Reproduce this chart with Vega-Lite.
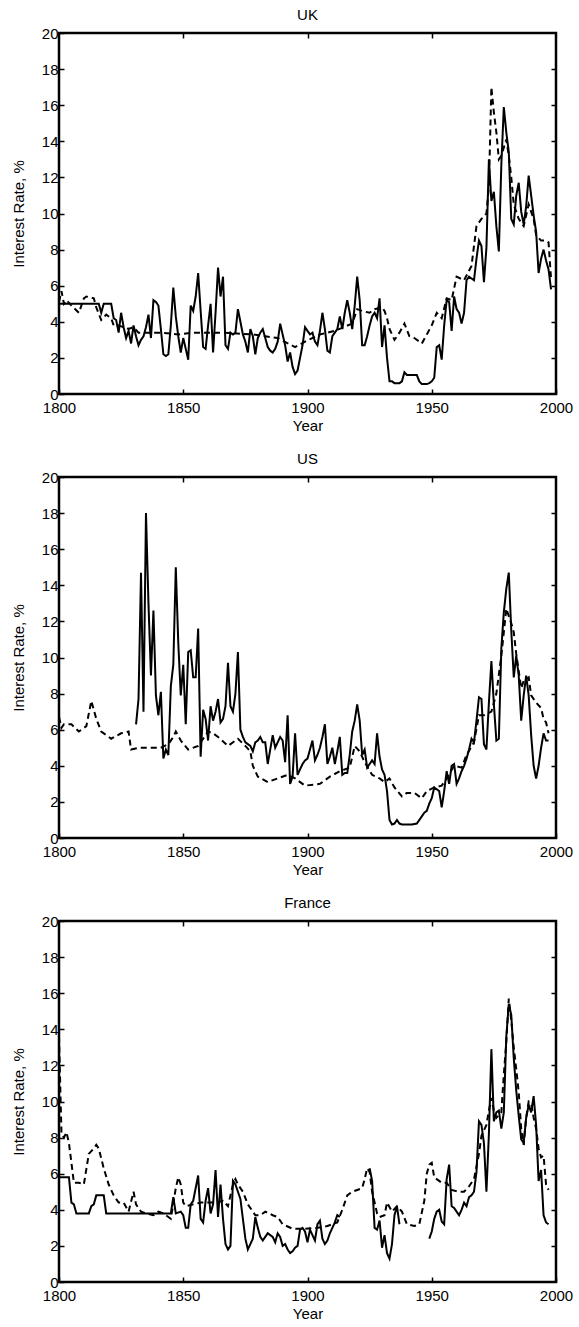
{
  "$schema": "https://vega.github.io/schema/vega-lite/v6.json",
  "background": "white",
  "padding": {"left": 10, "top": 6, "right": 5, "bottom": 0},
  "spacing": 15,
  "config": {
    "font": "Liberation Sans",
    "view": {"stroke": "black", "strokeWidth": 2.5},
    "axis": {
      "domain": false, "grid": false, "labelFlush": false,
      "labelFont": "Liberation Sans", "labelFontSize": 15, "labelColor": "black",
      "titleFont": "Liberation Sans", "titleFontSize": 15, "titleFontWeight": "normal", "titleColor": "black",
      "tickColor": "black", "tickWidth": 1.5, "tickSize": -5
    },
    "title": {"font": "Liberation Sans", "fontSize": 15, "fontWeight": "normal", "color": "black", "offset": 3},
    "line": {"color": "black", "strokeWidth": 2}
  },
  "datasets": {
    "uk_short": [
      {"year":1800,"rate":5.0},{"year":1816,"rate":5.0},{"year":1817,"rate":4.5},{"year":1818,"rate":5.0},{"year":1821,"rate":5.0},{"year":1822,"rate":4.2},{"year":1823,"rate":4.1},{"year":1824,"rate":3.4},{"year":1825,"rate":4.5},{"year":1826,"rate":3.7},{"year":1827,"rate":3.1},{"year":1828,"rate":3.5},{"year":1829,"rate":2.8},{"year":1830,"rate":3.8},{"year":1831,"rate":3.2},{"year":1832,"rate":2.7},{"year":1833,"rate":3.0},{"year":1834,"rate":3.2},{"year":1835,"rate":3.7},{"year":1836,"rate":4.4},{"year":1837,"rate":3.1},{"year":1838,"rate":5.2},{"year":1839,"rate":5.1},{"year":1840,"rate":4.9},{"year":1841,"rate":3.6},{"year":1842,"rate":2.2},{"year":1843,"rate":2.1},{"year":1844,"rate":2.2},{"year":1845,"rate":3.8},{"year":1846,"rate":5.9},{"year":1847,"rate":4.3},{"year":1848,"rate":3.2},{"year":1849,"rate":2.3},{"year":1850,"rate":3.1},{"year":1851,"rate":2.5},{"year":1852,"rate":1.9},{"year":1853,"rate":4.9},{"year":1854,"rate":4.6},{"year":1855,"rate":5.4},{"year":1856,"rate":6.7},{"year":1857,"rate":4.6},{"year":1858,"rate":2.6},{"year":1859,"rate":2.5},{"year":1860,"rate":3.8},{"year":1861,"rate":5.0},{"year":1862,"rate":2.3},{"year":1863,"rate":4.5},{"year":1864,"rate":7.0},{"year":1865,"rate":5.4},{"year":1866,"rate":6.5},{"year":1867,"rate":2.7},{"year":1868,"rate":2.5},{"year":1869,"rate":3.4},{"year":1870,"rate":3.3},{"year":1871,"rate":3.4},{"year":1872,"rate":4.7},{"year":1873,"rate":4.0},{"year":1874,"rate":3.3},{"year":1875,"rate":2.9},{"year":1876,"rate":2.3},{"year":1877,"rate":3.6},{"year":1878,"rate":3.2},{"year":1879,"rate":2.2},{"year":1880,"rate":3.1},{"year":1881,"rate":3.4},{"year":1882,"rate":3.6},{"year":1883,"rate":3.1},{"year":1884,"rate":2.6},{"year":1885,"rate":2.4},{"year":1886,"rate":2.3},{"year":1887,"rate":2.5},{"year":1888,"rate":2.9},{"year":1889,"rate":3.9},{"year":1890,"rate":3.3},{"year":1891,"rate":2.7},{"year":1892,"rate":1.8},{"year":1893,"rate":2.3},{"year":1894,"rate":1.5},{"year":1895,"rate":1.1},{"year":1896,"rate":1.3},{"year":1897,"rate":2.0},{"year":1898,"rate":2.7},{"year":1899,"rate":3.7},{"year":1900,"rate":3.5},{"year":1901,"rate":3.3},{"year":1902,"rate":3.4},{"year":1903,"rate":2.9},{"year":1904,"rate":2.7},{"year":1905,"rate":3.5},{"year":1906,"rate":4.5},{"year":1907,"rate":3.6},{"year":1908,"rate":2.4},{"year":1909,"rate":2.3},{"year":1910,"rate":3.2},{"year":1911,"rate":3.4},{"year":1912,"rate":3.6},{"year":1913,"rate":4.3},{"year":1914,"rate":3.6},{"year":1915,"rate":4.5},{"year":1916,"rate":5.2},{"year":1917,"rate":4.5},{"year":1918,"rate":3.6},{"year":1919,"rate":4.9},{"year":1920,"rate":6.5},{"year":1921,"rate":5.2},{"year":1922,"rate":2.7},{"year":1923,"rate":2.7},{"year":1924,"rate":3.2},{"year":1925,"rate":3.8},{"year":1926,"rate":4.3},{"year":1927,"rate":4.5},{"year":1928,"rate":4.2},{"year":1929,"rate":5.3},{"year":1930,"rate":2.6},{"year":1931,"rate":3.8},{"year":1932,"rate":2.0},{"year":1933,"rate":0.7},{"year":1934,"rate":0.7},{"year":1935,"rate":0.6},{"year":1936,"rate":0.6},{"year":1937,"rate":0.6},{"year":1938,"rate":0.7},{"year":1939,"rate":1.2},{"year":1940,"rate":1.05},{"year":1942,"rate":1.05},{"year":1944,"rate":1.05},{"year":1945,"rate":0.7},{"year":1946,"rate":0.55},{"year":1948,"rate":0.55},{"year":1949,"rate":0.6},{"year":1950,"rate":0.7},{"year":1951,"rate":0.9},{"year":1952,"rate":2.6},{"year":1953,"rate":2.7},{"year":1954,"rate":1.9},{"year":1955,"rate":3.8},{"year":1956,"rate":5.2},{"year":1957,"rate":5.1},{"year":1958,"rate":3.5},{"year":1959,"rate":5.4},{"year":1960,"rate":4.7},{"year":1961,"rate":4.5},{"year":1962,"rate":3.9},{"year":1963,"rate":4.5},{"year":1964,"rate":6.3},{"year":1965,"rate":6.5},{"year":1966,"rate":6.4},{"year":1967,"rate":6.3},{"year":1968,"rate":7.5},{"year":1969,"rate":8.5},{"year":1970,"rate":8.2},{"year":1971,"rate":6.2},{"year":1972,"rate":8.1},{"year":1973,"rate":13.0},{"year":1974,"rate":10.7},{"year":1975,"rate":11.2},{"year":1976,"rate":9.3},{"year":1977,"rate":7.9},{"year":1978,"rate":12.7},{"year":1979,"rate":15.9},{"year":1980,"rate":14.5},{"year":1981,"rate":13.4},{"year":1982,"rate":9.7},{"year":1983,"rate":9.4},{"year":1984,"rate":11.0},{"year":1985,"rate":11.7},{"year":1986,"rate":10.1},{"year":1987,"rate":9.4},{"year":1988,"rate":10.4},{"year":1989,"rate":12.1},{"year":1990,"rate":11.0},{"year":1991,"rate":9.9},{"year":1992,"rate":9.0},{"year":1993,"rate":6.7},{"year":1994,"rate":7.5},{"year":1995,"rate":8.0},{"year":1996,"rate":7.4},{"year":1997,"rate":6.9},{"year":1998,"rate":5.8}
    ],
    "uk_long": [
      {"year":1800,"rate":5.1},{"year":1801,"rate":5.7},{"year":1802,"rate":5.0},{"year":1803,"rate":5.2},{"year":1805,"rate":4.9},{"year":1808,"rate":4.5},{"year":1810,"rate":5.3},{"year":1811,"rate":5.4},{"year":1814,"rate":5.3},{"year":1815,"rate":4.8},{"year":1817,"rate":4.1},{"year":1819,"rate":4.4},{"year":1821,"rate":4.2},{"year":1822,"rate":3.8},{"year":1824,"rate":3.8},{"year":1826,"rate":3.7},{"year":1828,"rate":3.6},{"year":1830,"rate":3.7},{"year":1832,"rate":3.4},{"year":1835,"rate":3.4},{"year":1841,"rate":3.4},{"year":1848,"rate":3.3},{"year":1854,"rate":3.4},{"year":1866,"rate":3.4},{"year":1878,"rate":3.3},{"year":1888,"rate":3.1},{"year":1895,"rate":2.6},{"year":1899,"rate":2.9},{"year":1905,"rate":3.3},{"year":1911,"rate":3.5},{"year":1918,"rate":3.9},{"year":1920,"rate":4.7},{"year":1922,"rate":4.6},{"year":1925,"rate":4.5},{"year":1927,"rate":4.7},{"year":1930,"rate":4.8},{"year":1931,"rate":4.6},{"year":1932,"rate":4.2},{"year":1933,"rate":3.6},{"year":1935,"rate":3.0},{"year":1937,"rate":3.4},{"year":1939,"rate":3.9},{"year":1941,"rate":3.2},{"year":1943,"rate":3.1},{"year":1946,"rate":2.8},{"year":1948,"rate":3.3},{"year":1950,"rate":3.8},{"year":1952,"rate":4.5},{"year":1954,"rate":4.2},{"year":1956,"rate":5.3},{"year":1958,"rate":5.2},{"year":1960,"rate":6.5},{"year":1963,"rate":6.3},{"year":1966,"rate":7.1},{"year":1968,"rate":9.3},{"year":1970,"rate":9.7},{"year":1972,"rate":10.0},{"year":1973,"rate":11.5},{"year":1974,"rate":17.0},{"year":1975,"rate":15.6},{"year":1976,"rate":14.5},{"year":1977,"rate":13.0},{"year":1978,"rate":13.2},{"year":1980,"rate":14.1},{"year":1981,"rate":13.2},{"year":1982,"rate":12.0},{"year":1983,"rate":10.5},{"year":1985,"rate":9.7},{"year":1987,"rate":9.3},{"year":1989,"rate":10.5},{"year":1991,"rate":9.7},{"year":1992,"rate":8.8},{"year":1994,"rate":8.5},{"year":1996,"rate":8.5},{"year":1997,"rate":8.4},{"year":1998,"rate":6.4}
    ],
    "us_short": [
      {"year":1831,"rate":6.3},{"year":1832,"rate":7.7},{"year":1833,"rate":14.7},{"year":1834,"rate":7.0},{"year":1835,"rate":18.0},{"year":1836,"rate":13.0},{"year":1837,"rate":9.0},{"year":1838,"rate":12.6},{"year":1839,"rate":7.9},{"year":1840,"rate":6.8},{"year":1841,"rate":8.1},{"year":1842,"rate":4.4},{"year":1843,"rate":4.9},{"year":1844,"rate":4.6},{"year":1845,"rate":8.4},{"year":1846,"rate":9.6},{"year":1847,"rate":15.0},{"year":1848,"rate":10.8},{"year":1849,"rate":7.9},{"year":1850,"rate":9.6},{"year":1851,"rate":6.3},{"year":1852,"rate":10.3},{"year":1853,"rate":10.4},{"year":1854,"rate":8.9},{"year":1855,"rate":8.9},{"year":1856,"rate":11.6},{"year":1857,"rate":4.5},{"year":1858,"rate":7.1},{"year":1859,"rate":6.6},{"year":1860,"rate":5.4},{"year":1861,"rate":7.3},{"year":1862,"rate":6.5},{"year":1863,"rate":7.0},{"year":1864,"rate":7.7},{"year":1865,"rate":6.4},{"year":1866,"rate":6.6},{"year":1867,"rate":7.3},{"year":1868,"rate":9.7},{"year":1869,"rate":7.3},{"year":1870,"rate":7.0},{"year":1871,"rate":8.0},{"year":1872,"rate":10.3},{"year":1873,"rate":6.0},{"year":1874,"rate":5.6},{"year":1875,"rate":5.3},{"year":1876,"rate":5.2},{"year":1877,"rate":5.1},{"year":1878,"rate":4.8},{"year":1879,"rate":5.3},{"year":1880,"rate":5.4},{"year":1881,"rate":5.6},{"year":1882,"rate":5.3},{"year":1883,"rate":5.3},{"year":1884,"rate":4.1},{"year":1885,"rate":4.9},{"year":1886,"rate":5.7},{"year":1887,"rate":5.0},{"year":1888,"rate":5.3},{"year":1889,"rate":5.6},{"year":1890,"rate":5.4},{"year":1891,"rate":4.2},{"year":1892,"rate":6.8},{"year":1893,"rate":3.0},{"year":1894,"rate":3.4},{"year":1895,"rate":5.8},{"year":1896,"rate":3.5},{"year":1897,"rate":3.8},{"year":1898,"rate":4.1},{"year":1899,"rate":4.3},{"year":1900,"rate":4.4},{"year":1901,"rate":4.9},{"year":1902,"rate":5.4},{"year":1903,"rate":4.3},{"year":1904,"rate":4.6},{"year":1905,"rate":5.0},{"year":1906,"rate":5.6},{"year":1907,"rate":6.3},{"year":1908,"rate":4.1},{"year":1909,"rate":4.5},{"year":1910,"rate":5.0},{"year":1911,"rate":4.1},{"year":1912,"rate":4.8},{"year":1913,"rate":5.6},{"year":1914,"rate":3.5},{"year":1915,"rate":3.6},{"year":1916,"rate":3.6},{"year":1917,"rate":4.6},{"year":1918,"rate":5.9},{"year":1919,"rate":6.5},{"year":1920,"rate":7.4},{"year":1921,"rate":6.5},{"year":1922,"rate":4.6},{"year":1923,"rate":4.9},{"year":1924,"rate":3.9},{"year":1925,"rate":4.1},{"year":1926,"rate":4.3},{"year":1927,"rate":4.1},{"year":1928,"rate":5.8},{"year":1929,"rate":4.5},{"year":1930,"rate":3.8},{"year":1931,"rate":3.5},{"year":1932,"rate":2.6},{"year":1933,"rate":1.0},{"year":1934,"rate":0.75},{"year":1935,"rate":0.8},{"year":1936,"rate":1.0},{"year":1937,"rate":0.8},{"year":1938,"rate":0.75},{"year":1940,"rate":0.75},{"year":1942,"rate":0.75},{"year":1944,"rate":0.8},{"year":1946,"rate":1.2},{"year":1947,"rate":1.4},{"year":1948,"rate":1.5},{"year":1949,"rate":1.9},{"year":1950,"rate":2.2},{"year":1951,"rate":2.8},{"year":1952,"rate":2.7},{"year":1953,"rate":2.6},{"year":1954,"rate":1.7},{"year":1955,"rate":2.6},{"year":1956,"rate":3.7},{"year":1957,"rate":3.0},{"year":1958,"rate":4.0},{"year":1959,"rate":4.1},{"year":1960,"rate":3.0},{"year":1961,"rate":3.3},{"year":1962,"rate":3.7},{"year":1963,"rate":4.0},{"year":1964,"rate":4.4},{"year":1965,"rate":4.9},{"year":1966,"rate":5.5},{"year":1967,"rate":5.3},{"year":1968,"rate":6.5},{"year":1969,"rate":7.8},{"year":1970,"rate":7.7},{"year":1971,"rate":5.2},{"year":1972,"rate":4.9},{"year":1973,"rate":7.5},{"year":1974,"rate":9.8},{"year":1975,"rate":7.4},{"year":1976,"rate":5.4},{"year":1977,"rate":5.5},{"year":1978,"rate":10.5},{"year":1979,"rate":12.5},{"year":1980,"rate":13.8},{"year":1981,"rate":14.7},{"year":1982,"rate":11.5},{"year":1983,"rate":8.9},{"year":1984,"rate":10.1},{"year":1985,"rate":9.0},{"year":1986,"rate":6.5},{"year":1987,"rate":7.9},{"year":1988,"rate":9.0},{"year":1989,"rate":7.9},{"year":1990,"rate":5.7},{"year":1991,"rate":4.0},{"year":1992,"rate":3.3},{"year":1993,"rate":4.0},{"year":1994,"rate":5.0},{"year":1995,"rate":5.8},{"year":1996,"rate":5.4},{"year":1997,"rate":5.4}
    ],
    "us_long": [
      {"year":1800,"rate":6.7},{"year":1801,"rate":6.1},{"year":1802,"rate":6.3},{"year":1805,"rate":6.3},{"year":1808,"rate":5.9},{"year":1811,"rate":6.2},{"year":1813,"rate":7.6},{"year":1815,"rate":6.6},{"year":1817,"rate":5.9},{"year":1821,"rate":5.5},{"year":1825,"rate":5.8},{"year":1828,"rate":5.9},{"year":1829,"rate":4.9},{"year":1832,"rate":5.0},{"year":1838,"rate":5.0},{"year":1841,"rate":5.0},{"year":1844,"rate":5.2},{"year":1846,"rate":5.6},{"year":1847,"rate":5.9},{"year":1849,"rate":5.4},{"year":1852,"rate":4.9},{"year":1856,"rate":5.1},{"year":1860,"rate":5.9},{"year":1862,"rate":5.8},{"year":1864,"rate":5.6},{"year":1868,"rate":5.1},{"year":1872,"rate":5.5},{"year":1875,"rate":5.1},{"year":1877,"rate":4.8},{"year":1878,"rate":4.0},{"year":1880,"rate":3.4},{"year":1884,"rate":3.1},{"year":1888,"rate":3.3},{"year":1892,"rate":3.5},{"year":1895,"rate":3.3},{"year":1899,"rate":2.9},{"year":1905,"rate":3.0},{"year":1909,"rate":3.4},{"year":1913,"rate":3.7},{"year":1917,"rate":3.9},{"year":1919,"rate":5.1},{"year":1921,"rate":4.8},{"year":1923,"rate":4.2},{"year":1926,"rate":3.5},{"year":1929,"rate":3.3},{"year":1931,"rate":3.1},{"year":1933,"rate":3.3},{"year":1935,"rate":2.8},{"year":1938,"rate":2.3},{"year":1940,"rate":2.5},{"year":1943,"rate":2.5},{"year":1946,"rate":2.2},{"year":1948,"rate":2.6},{"year":1951,"rate":2.8},{"year":1954,"rate":2.9},{"year":1956,"rate":3.3},{"year":1959,"rate":4.0},{"year":1962,"rate":3.9},{"year":1964,"rate":4.6},{"year":1967,"rate":5.3},{"year":1969,"rate":6.8},{"year":1971,"rate":6.8},{"year":1974,"rate":7.0},{"year":1976,"rate":8.0},{"year":1978,"rate":10.1},{"year":1980,"rate":12.7},{"year":1982,"rate":11.9},{"year":1983,"rate":11.4},{"year":1984,"rate":10.2},{"year":1986,"rate":8.3},{"year":1987,"rate":8.7},{"year":1989,"rate":8.9},{"year":1990,"rate":7.9},{"year":1992,"rate":7.5},{"year":1994,"rate":7.2},{"year":1995,"rate":6.6},{"year":1996,"rate":6.4},{"year":1997,"rate":5.8}
    ],
    "fr_short": [
      {"year":1800,"rate":5.8},{"year":1804,"rate":5.8},{"year":1805,"rate":4.4},{"year":1806,"rate":4.3},{"year":1807,"rate":3.8},{"year":1812,"rate":3.8},{"year":1813,"rate":4.2},{"year":1814,"rate":4.3},{"year":1815,"rate":4.8},{"year":1818,"rate":4.8},{"year":1819,"rate":3.8},{"year":1845,"rate":3.8},{"year":1846,"rate":4.7},{"year":1847,"rate":3.8},{"year":1849,"rate":3.9},{"year":1850,"rate":3.7},{"year":1851,"rate":3.0},{"year":1852,"rate":3.0},{"year":1853,"rate":4.3},{"year":1854,"rate":4.5},{"year":1856,"rate":5.9},{"year":1857,"rate":3.5},{"year":1858,"rate":3.3},{"year":1859,"rate":4.5},{"year":1860,"rate":5.2},{"year":1861,"rate":3.8},{"year":1862,"rate":4.3},{"year":1863,"rate":6.2},{"year":1864,"rate":3.6},{"year":1865,"rate":5.4},{"year":1866,"rate":3.5},{"year":1867,"rate":2.1},{"year":1868,"rate":1.8},{"year":1869,"rate":2.0},{"year":1870,"rate":5.6},{"year":1871,"rate":5.4},{"year":1872,"rate":5.0},{"year":1873,"rate":4.6},{"year":1874,"rate":3.5},{"year":1875,"rate":2.4},{"year":1876,"rate":1.8},{"year":1877,"rate":2.1},{"year":1878,"rate":2.4},{"year":1879,"rate":3.6},{"year":1880,"rate":3.0},{"year":1881,"rate":2.5},{"year":1882,"rate":2.3},{"year":1883,"rate":2.5},{"year":1884,"rate":2.7},{"year":1885,"rate":2.6},{"year":1886,"rate":2.5},{"year":1887,"rate":2.2},{"year":1888,"rate":2.7},{"year":1889,"rate":2.5},{"year":1890,"rate":2.0},{"year":1891,"rate":2.1},{"year":1892,"rate":1.8},{"year":1893,"rate":1.6},{"year":1894,"rate":1.7},{"year":1895,"rate":1.9},{"year":1896,"rate":2.0},{"year":1897,"rate":2.9},{"year":1898,"rate":3.0},{"year":1899,"rate":2.8},{"year":1900,"rate":2.2},{"year":1901,"rate":2.9},{"year":1902,"rate":2.6},{"year":1903,"rate":2.3},{"year":1904,"rate":3.2},{"year":1905,"rate":3.4},{"year":1906,"rate":2.4},{"year":1907,"rate":2.1},{"year":1908,"rate":2.3},{"year":1909,"rate":2.7},{"year":1910,"rate":3.0},{"year":1911,"rate":3.3},{"year":1912,"rate":3.7},{"year":1913,"rate":3.6},{"year":1914,"rate":null},{"year":1925,"rate":6.3},{"year":1926,"rate":5.6},{"year":1927,"rate":3.0},{"year":1928,"rate":2.9},{"year":1929,"rate":3.4},{"year":1930,"rate":1.9},{"year":1931,"rate":2.6},{"year":1932,"rate":1.6},{"year":1933,"rate":1.3},{"year":1934,"rate":2.1},{"year":1935,"rate":3.7},{"year":1936,"rate":4.2},{"year":1937,"rate":3.2},{"year":1940,"rate":null},{"year":1949,"rate":2.4},{"year":1950,"rate":2.8},{"year":1951,"rate":3.5},{"year":1952,"rate":3.9},{"year":1953,"rate":4.0},{"year":1954,"rate":3.35},{"year":1955,"rate":3.2},{"year":1956,"rate":5.7},{"year":1957,"rate":6.5},{"year":1958,"rate":4.2},{"year":1959,"rate":4.1},{"year":1960,"rate":3.9},{"year":1961,"rate":3.7},{"year":1962,"rate":4.0},{"year":1963,"rate":4.4},{"year":1964,"rate":4.2},{"year":1965,"rate":4.7},{"year":1966,"rate":4.8},{"year":1967,"rate":5.0},{"year":1968,"rate":6.1},{"year":1969,"rate":8.9},{"year":1970,"rate":8.7},{"year":1971,"rate":7.7},{"year":1972,"rate":5.0},{"year":1973,"rate":8.2},{"year":1974,"rate":12.9},{"year":1975,"rate":8.9},{"year":1976,"rate":9.4},{"year":1977,"rate":9.5},{"year":1978,"rate":8.5},{"year":1979,"rate":9.4},{"year":1980,"rate":13.6},{"year":1981,"rate":15.4},{"year":1982,"rate":14.8},{"year":1983,"rate":12.4},{"year":1984,"rate":10.6},{"year":1985,"rate":9.2},{"year":1986,"rate":7.9},{"year":1987,"rate":7.7},{"year":1988,"rate":9.1},{"year":1989,"rate":9.8},{"year":1990,"rate":9.4},{"year":1991,"rate":10.3},{"year":1992,"rate":8.7},{"year":1993,"rate":5.6},{"year":1994,"rate":6.2},{"year":1995,"rate":3.7},{"year":1996,"rate":3.3},{"year":1997,"rate":3.2}
    ],
    "fr_long": [
      {"year":1800,"rate":13.6},{"year":1801,"rate":8.2},{"year":1802,"rate":8.0},{"year":1803,"rate":8.3},{"year":1804,"rate":7.7},{"year":1806,"rate":5.5},{"year":1808,"rate":5.5},{"year":1810,"rate":5.4},{"year":1812,"rate":7.1},{"year":1814,"rate":7.4},{"year":1815,"rate":7.6},{"year":1816,"rate":7.4},{"year":1818,"rate":6.3},{"year":1820,"rate":5.4},{"year":1822,"rate":4.8},{"year":1824,"rate":4.4},{"year":1826,"rate":4.4},{"year":1828,"rate":3.9},{"year":1830,"rate":5.0},{"year":1831,"rate":4.3},{"year":1833,"rate":3.9},{"year":1835,"rate":3.8},{"year":1838,"rate":3.7},{"year":1840,"rate":3.9},{"year":1842,"rate":3.8},{"year":1844,"rate":3.6},{"year":1845,"rate":3.5},{"year":1847,"rate":5.2},{"year":1848,"rate":5.8},{"year":1849,"rate":5.4},{"year":1850,"rate":4.4},{"year":1851,"rate":4.2},{"year":1854,"rate":4.3},{"year":1857,"rate":4.4},{"year":1863,"rate":4.4},{"year":1866,"rate":4.5},{"year":1868,"rate":4.2},{"year":1870,"rate":5.4},{"year":1871,"rate":5.7},{"year":1872,"rate":5.4},{"year":1874,"rate":5.0},{"year":1876,"rate":4.3},{"year":1879,"rate":3.7},{"year":1881,"rate":3.7},{"year":1883,"rate":3.9},{"year":1886,"rate":3.7},{"year":1888,"rate":3.6},{"year":1890,"rate":3.2},{"year":1894,"rate":2.95},{"year":1899,"rate":2.95},{"year":1904,"rate":3.0},{"year":1908,"rate":3.1},{"year":1912,"rate":3.3},{"year":1914,"rate":4.0},{"year":1916,"rate":4.8},{"year":1918,"rate":5.0},{"year":1920,"rate":5.1},{"year":1922,"rate":5.2},{"year":1923,"rate":5.7},{"year":1924,"rate":6.3},{"year":1925,"rate":6.1},{"year":1926,"rate":5.0},{"year":1927,"rate":4.4},{"year":1928,"rate":3.8},{"year":1929,"rate":3.6},{"year":1931,"rate":3.7},{"year":1932,"rate":4.4},{"year":1934,"rate":3.9},{"year":1936,"rate":4.2},{"year":1938,"rate":3.9},{"year":1940,"rate":3.2},{"year":1943,"rate":3.1},{"year":1945,"rate":3.2},{"year":1947,"rate":4.5},{"year":1948,"rate":6.0},{"year":1949,"rate":6.5},{"year":1950,"rate":6.6},{"year":1951,"rate":5.8},{"year":1954,"rate":5.5},{"year":1956,"rate":5.5},{"year":1958,"rate":5.1},{"year":1961,"rate":5.0},{"year":1963,"rate":5.0},{"year":1965,"rate":5.3},{"year":1967,"rate":5.7},{"year":1969,"rate":7.1},{"year":1970,"rate":8.1},{"year":1972,"rate":8.7},{"year":1973,"rate":9.5},{"year":1974,"rate":10.2},{"year":1975,"rate":9.5},{"year":1976,"rate":9.1},{"year":1978,"rate":9.4},{"year":1979,"rate":11.5},{"year":1980,"rate":13.3},{"year":1981,"rate":15.7},{"year":1982,"rate":14.5},{"year":1983,"rate":13.0},{"year":1984,"rate":11.8},{"year":1985,"rate":10.5},{"year":1986,"rate":8.5},{"year":1987,"rate":7.6},{"year":1988,"rate":9.1},{"year":1989,"rate":10.0},{"year":1990,"rate":9.9},{"year":1991,"rate":9.1},{"year":1992,"rate":8.5},{"year":1993,"rate":7.4},{"year":1994,"rate":6.9},{"year":1995,"rate":7.0},{"year":1996,"rate":5.4},{"year":1997,"rate":5.1}
    ]
  },
  "vconcat": [
    {
      "title": "UK",
      "width": 497, "height": 361,
      "resolve": {"axis": {"x": "independent", "y": "independent"}},
      "layer": [
        {
          "data": {"name": "uk_short"},
          "mark": {"type": "line", "invalid": "break-paths-show-domains"},
          "encoding": {
            "x": {"field": "year", "type": "quantitative", "scale": {"domain": [1800, 2000], "nice": false, "zero": false},
                  "axis": {"orient": "bottom", "values": [1800, 1850, 1900, 1950, 2000], "format": "d", "title": "Year", "labelPadding": 11, "titlePadding": 3}},
            "y": {"field": "rate", "type": "quantitative", "scale": {"domain": [0, 20], "nice": false},
                  "axis": {"orient": "left", "values": [0, 2, 4, 6, 8, 10, 12, 14, 16, 18, 20], "title": "Interest Rate, %", "labelPadding": 6, "titlePadding": 15}}
          }
        },
        {
          "data": {"name": "uk_long"},
          "mark": {"type": "line", "strokeDash": [6, 4]},
          "encoding": {
            "x": {"field": "year", "type": "quantitative", "scale": {"domain": [1800, 2000], "nice": false, "zero": false},
                  "axis": {"orient": "top", "values": [1850, 1900, 1950], "labels": false, "title": null}},
            "y": {"field": "rate", "type": "quantitative", "scale": {"domain": [0, 20], "nice": false},
                  "axis": {"orient": "right", "values": [2, 4, 6, 8, 10, 12, 14, 16, 18], "labels": false, "title": null}}
          }
        }
      ]
    },
    {
      "title": "US",
      "width": 497, "height": 361,
      "resolve": {"axis": {"x": "independent", "y": "independent"}},
      "layer": [
        {
          "data": {"name": "us_short"},
          "mark": {"type": "line", "invalid": "break-paths-show-domains"},
          "encoding": {
            "x": {"field": "year", "type": "quantitative", "scale": {"domain": [1800, 2000], "nice": false, "zero": false},
                  "axis": {"orient": "bottom", "values": [1800, 1850, 1900, 1950, 2000], "format": "d", "title": "Year", "labelPadding": 11, "titlePadding": 3}},
            "y": {"field": "rate", "type": "quantitative", "scale": {"domain": [0, 20], "nice": false},
                  "axis": {"orient": "left", "values": [0, 2, 4, 6, 8, 10, 12, 14, 16, 18, 20], "title": "Interest Rate, %", "labelPadding": 6, "titlePadding": 15}}
          }
        },
        {
          "data": {"name": "us_long"},
          "mark": {"type": "line", "strokeDash": [6, 4]},
          "encoding": {
            "x": {"field": "year", "type": "quantitative", "scale": {"domain": [1800, 2000], "nice": false, "zero": false},
                  "axis": {"orient": "top", "values": [1850, 1900, 1950], "labels": false, "title": null}},
            "y": {"field": "rate", "type": "quantitative", "scale": {"domain": [0, 20], "nice": false},
                  "axis": {"orient": "right", "values": [2, 4, 6, 8, 10, 12, 14, 16, 18], "labels": false, "title": null}}
          }
        }
      ]
    },
    {
      "title": "France",
      "width": 497, "height": 361,
      "resolve": {"axis": {"x": "independent", "y": "independent"}},
      "layer": [
        {
          "data": {"name": "fr_short"},
          "mark": {"type": "line", "invalid": "break-paths-show-domains"},
          "encoding": {
            "x": {"field": "year", "type": "quantitative", "scale": {"domain": [1800, 2000], "nice": false, "zero": false},
                  "axis": {"orient": "bottom", "values": [1800, 1850, 1900, 1950, 2000], "format": "d", "title": "Year", "labelPadding": 11, "titlePadding": 3}},
            "y": {"field": "rate", "type": "quantitative", "scale": {"domain": [0, 20], "nice": false},
                  "axis": {"orient": "left", "values": [0, 2, 4, 6, 8, 10, 12, 14, 16, 18, 20], "title": "Interest Rate, %", "labelPadding": 6, "titlePadding": 15}}
          }
        },
        {
          "data": {"name": "fr_long"},
          "mark": {"type": "line", "strokeDash": [6, 4]},
          "encoding": {
            "x": {"field": "year", "type": "quantitative", "scale": {"domain": [1800, 2000], "nice": false, "zero": false},
                  "axis": {"orient": "top", "values": [1850, 1900, 1950], "labels": false, "title": null}},
            "y": {"field": "rate", "type": "quantitative", "scale": {"domain": [0, 20], "nice": false},
                  "axis": {"orient": "right", "values": [2, 4, 6, 8, 10, 12, 14, 16, 18], "labels": false, "title": null}}
          }
        }
      ]
    }
  ]
}
